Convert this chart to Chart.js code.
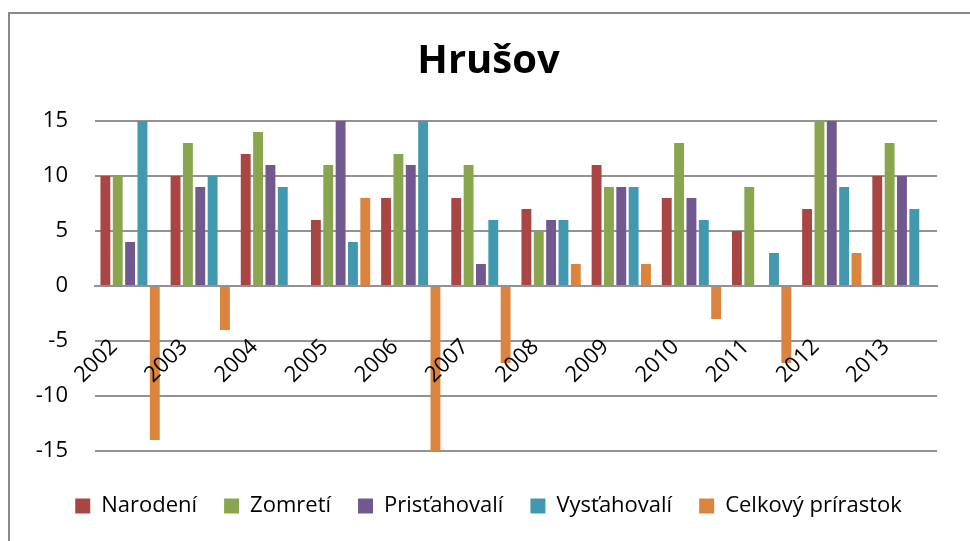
<!DOCTYPE html>
<html>
<head>
<meta charset="utf-8">
<script src="https://cdn.jsdelivr.net/npm/chart.js@4"></script>
<style>
  html, body { margin: 0; padding: 0; background: #fff; overflow: hidden; }
  #wrap { position: relative; width: 970px; height: 541px; }
  #frame { position: absolute; left: 8px; top: 12px; width: 1000px; height: 600px;
           border-left: 2px solid #8a8a8a; border-top: 2px solid #8a8a8a; box-sizing: border-box; }
  canvas { position: absolute; left: 0; top: 0; }
</style>
</head>
<body>
<div id="wrap">
  <div id="frame"></div>
  <canvas id="c" width="970" height="541"></canvas>
</div>
<script>
const years = ['2002','2003','2004','2005','2006','2007','2008','2009','2010','2011','2012','2013'];
const narodeni     = [10, 10, 12,  6,   8,  8, 7, 11,  8,  5,  7, 10];
const zomreti      = [10, 13, 14, 11,  12, 11, 5,  9, 13,  9, 15, 13];
const pristahovali = [ 4,  9, 11, 15,  11,  2, 6,  9,  8,  0, 15, 10];
const vystahovali  = [15, 10,  9,  4,  15,  6, 6,  9,  6,  3,  9,  7];
const celkovy      = [-14, -4, 0,  8, -15, -7, 2,  2, -3, -7,  3,  0];
const seriesNames = ['Narodení', 'Zomretí', 'Prisťahovalí', 'Vysťahovalí', 'Celkový prírastok'];
const seriesColors = ['#A94543', '#89A54E', '#71588F', '#4198AF', '#DB843D'];
const yTicks = [-15, -10, -5, 0, 5, 10, 15];

const seriesData = [narodeni, zomreti, pristahovali, vystahovali, celkovy];
const FONT = '"Open Sans", "Liberation Sans", sans-serif';
const gridColor = '#929292';

new Chart(document.getElementById('c'), {
  type: 'bar',
  data: {
    labels: years,
    datasets: seriesData.map((d, i) => ({
      label: seriesNames[i],
      data: d,
      backgroundColor: seriesColors[i],
      borderWidth: 0,
      categoryPercentage: 0.88,
      barPercentage: 0.8
    }))
  },
  options: {
    responsive: false,
    animation: false,
    layout: { padding: { left: 35, right: 28, top: 0, bottom: 14 } },
    scales: {
      x: {
        position: { y: 0 },
        grid: { display: false, drawTicks: false },
        border: { display: true, color: gridColor, width: 2 },
        ticks: {
          z: 1,
          minRotation: 45, maxRotation: 45, autoSkip: false,
          padding: 48, labelOffset: -16,
          color: '#000', font: { family: FONT, size: 22 }
        }
      },
      x2: {
        type: 'category',
        position: 'bottom',
        labels: years,
        grid: { display: false, drawTicks: false },
        border: { display: false },
        ticks: { display: false },
        afterFit: s => { s.height = 17; }
      },
      y: {
        min: -15, max: 15,
        afterBuildTicks: s => { s.ticks = yTicks.map(v => ({ value: v })); },
        afterFit: s => { s.width = 60; },
        grid: { color: gridColor, lineWidth: 2, drawTicks: false },
        border: { display: false },
        ticks: { padding: 27, color: '#000', font: { family: FONT, size: 22 } }
      }
    },
    plugins: {
      title: {
        display: true, text: 'Hrušov', color: '#000',
        font: { family: FONT, size: 40, weight: 'bold' },
        padding: { top: 38, bottom: 35 }
      },
      legend: {
        position: 'bottom',
        labels: {
          boxWidth: 15, boxHeight: 15, padding: 27, color: '#000',
          font: { family: FONT, size: 22 }
        }
      },
      tooltip: { enabled: false }
    }
  }
});
</script>
</body>
</html>
